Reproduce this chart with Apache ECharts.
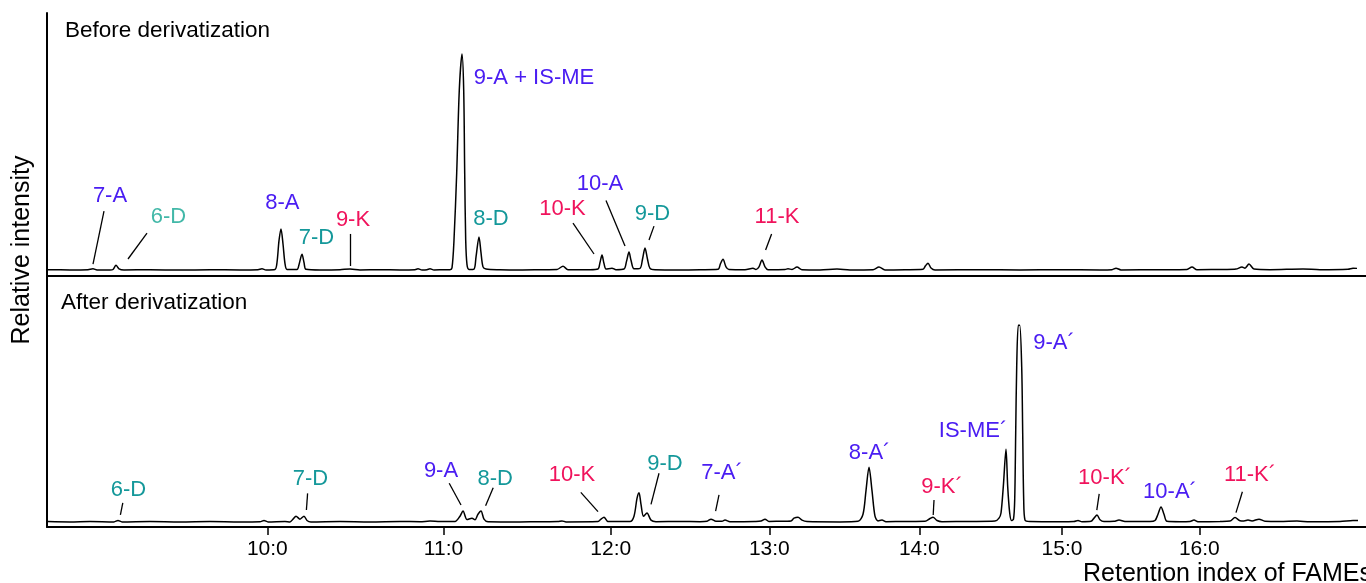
<!DOCTYPE html>
<html>
<head>
<meta charset="utf-8">
<script src="https://cdn.jsdelivr.net/npm/echarts@6/dist/echarts.min.js"></script>
<style>
  html, body { margin: 0; padding: 0; background: #fff; }
  #chart { width: 1366px; height: 583px; }
</style>
</head>
<body>
<div id="chart"></div>
<script>
// retention time (arbitrary min) of the retention index ticks
var riTicks = [6.683, 11.088, 15.268, 19.233, 22.983, 26.55, 29.983];
var riLabels = ['10:0', '11:0', '12:0', '13:0', '14:0', '15:0', '16:0'];

// chromatogram before derivatization [time, rel. intensity]
var beforeTrace = [
  [1.2,0.2],[1.75,0.1],[2.2,0.2],[2.325,0.6],[2.425,0.1],[2.75,0.0],[2.825,0.3],[2.9,2.2],[2.975,0.6],[3.1,0.1],
  [3.75,0.2],[4.5,0.0],[5.25,0.2],[6.0,0.1],[6.45,0.2],[6.55,0.6],[6.65,0.1],
  [6.875,0.3],[6.925,3.5],[6.975,13.5],[7.025,18.9],[7.075,12],[7.125,3],[7.175,0.3],
  [7.425,0.3],[7.475,2.5],[7.55,7.3],[7.6,3.5],[7.65,0.4],[8.0,0.1],[8.5,0.2],[8.75,0.5],[9.0,0.1],
  [9.5,0.2],[10.0,0.1],[10.375,0.2],[10.45,0.6],[10.55,0.1],[10.675,0.2],[10.75,0.6],[10.85,0.1],
  [11.125,0.2],[11.25,0.2],[11.3,1.0],[11.35,13.8],[11.4175,44.6],[11.4825,82.7],[11.55,99.2],
  [11.5925,82.7],[11.6175,44.6],[11.6425,13.8],[11.675,2.5],[11.725,0.3],
  [11.85,0.5],[11.9,6],[11.975,15.2],[12.025,8],[12.075,1.5],[12.15,0.5],[12.5,0.2],[13.0,0.1],
  [13.5,0.2],[13.925,0.3],[14.075,1.8],[14.2,0.2],[14.75,0.2],
  [14.95,0.5],[15.0,3.5],[15.05,6.9],[15.1,3],[15.15,0.5],[15.3,0.9],[15.4,0.2],
  [15.6,0.5],[15.6625,4],[15.725,8.3],[15.775,4.5],[15.85,0.6],
  [16.0,0.8],[16.0625,5],[16.125,10.1],[16.1875,5],[16.25,0.8],[16.375,0.2],[17.0,0.1],[17.5,0.2],
  [17.95,0.4],[18.0125,3],[18.075,5.0],[18.15,1.5],[18.225,0.3],[18.625,0.2],[18.825,0.9],[18.9,0.3],
  [18.975,1.5],[19.05,4.6],[19.125,1.5],[19.2,0.2],[19.625,0.3],[19.7,0.6],[19.8,0.3],[19.925,1.4],
  [20.05,0.2],[20.5,0.1],[20.925,0.5],[21.25,0.1],[21.825,0.2],[21.975,1.4],[22.125,0.1],[22.625,0.2],
  [23.075,0.4],[23.1375,2],[23.2,3.2],[23.275,1],[23.375,0.1],[24.5,0.2],[25.5,0.1],[26.5,0.2],
  [27.5,0.1],[27.8,0.2],[27.9,0.9],[28.025,0.1],[29.0,0.2],[29.675,0.3],[29.8,1.4],[29.925,0.2],
  [30.625,0.3],[30.9,0.5],[31.05,1.4],[31.125,0.9],[31.225,2.8],[31.35,0.5],[31.75,0.2],
  [32.575,0.5],[33.0,0.2],[33.7,0.4],[33.825,0.9],[33.925,0.8]
];

// chromatogram after derivatization [time, rel. intensity]
var afterTrace = [
  [1.2,0.3],[1.75,0.1],[2.25,0.3],[2.85,0.1],[2.95,0.8],[3.05,0.1],[3.75,0.3],[4.5,0.1],[5.25,0.3],
  [6.0,0.1],[6.5,0.2],[6.6,0.8],[6.7,0.1],[7.125,0.3],[7.25,0.1],[7.325,1.5],[7.4,3.0],[7.5,1.5],
  [7.6,3.0],[7.675,0.8],[7.775,0.1],[8.5,0.3],[9.25,0.1],[10.0,0.3],[10.5,0.2],[10.75,0.5],[11.0,0.3],
  [11.375,0.3],[11.5,3],[11.575,5.6],[11.675,1.3],[11.8,2.0],[11.875,1.2],[11.95,4],[12.025,5.6],
  [12.1,1.5],[12.2,0.2],[13.0,0.1],[13.5,0.2],[13.95,0.3],[14.05,0.6],[14.15,0.1],
  [14.95,0.3],[15.025,1.5],[15.1,2.5],[15.2,0.3],[15.75,0.3],[15.85,3],[15.925,12],[15.975,14.9],
  [16.025,9],[16.0875,3],[16.175,4.6],[16.275,1.0],[16.4,0.2],[17.0,0.3],[17.5,0.2],
  [17.675,0.4],[17.775,1.5],[17.9,0.4],[18.05,0.4],[18.125,1.0],[18.25,0.2],[18.875,0.3],
  [19.025,0.5],[19.125,1.5],[19.225,0.3],[19.45,0.4],[19.775,0.6],[19.85,2.0],[19.95,2.5],
  [20.05,1.0],[20.175,0.3],[21.0,0.1],[21.45,0.4],[21.575,4],[21.65,16],[21.725,27.8],[21.8,16],
  [21.875,3],[21.95,0.6],[22.05,1.0],[22.15,0.2],[22.625,0.3],[23.125,0.4],[23.25,1.8],[23.325,2.5],
  [23.425,0.8],[23.55,0.2],[24.25,0.3],[24.875,0.5],[24.975,2],[25.025,4.6],[25.0825,18.0],
  [25.15,37.0],[25.1925,18.0],[25.2425,4.6],[25.2875,0.8],[25.3375,1.5],[25.3675,11.2],
  [25.3925,45.3],[25.4175,78.9],[25.4575,100],[25.4925,100],[25.5425,78.9],[25.5675,45.3],
  [25.5925,11.2],[25.625,1.0],[25.75,0.3],[26.5,0.2],[26.85,0.3],[26.95,0.8],[27.05,0.2],
  [27.275,0.4],[27.35,2],[27.425,3.6],[27.5,1.2],[27.6,0.3],[27.85,0.4],[27.975,1.0],[28.125,0.3],
  [28.75,0.3],[28.875,0.8],[28.95,4],[29.025,7.6],[29.1,4],[29.175,0.4],[29.5,0.2],[29.75,0.3],
  [29.85,1.0],[29.95,0.2],[30.5,0.3],[30.75,0.5],[30.875,2.3],[31.0,0.7],[31.1,0.6],[31.2,1.0],
  [31.3,0.6],[31.475,1.5],[31.625,0.4],[32.0,0.3],[32.425,0.5],[32.75,0.2],[33.5,0.3],[33.825,0.8],
  [33.95,0.8]
];

// peak labels [text, class, time, intensity]
var beforeLabels = [
  ['7-A','A',2.75,34.0],['6-D','D2',4.21,24.4],['8-A','A',7.06,30.8],['7-D','D',7.91,14.7],
  ['9-K','K',8.825,23.0],['9-A + IS-ME','A',13.35,88.2],['8-D','D',12.275,23.5],
  ['10-K','K',14.06,28.0],['10-A','A',15.0,39.5],['9-D','D',16.31,25.8],['11-K','K',19.425,24.4]
];
var afterLabels = [
  ['6-D','D',3.21,16.3],['7-D','D',7.76,21.9],['9-A','A',11.025,25.9],['8-D','D',12.38,21.9],
  ['10-K','K',14.3,23.9],['9-D','D',16.625,29.5],['7-A\u00b4','A',18.05,24.9],['8-A\u00b4','A',21.74,35.1],
  ['9-K\u00b4','K',23.55,17.8],['IS-ME\u00b4','A',24.325,46.3],['9-A\u00b4','A',26.35,91.0],
  ['10-K\u00b4','K',27.625,22.4],['10-A\u00b4','A',29.25,15.3],['11-K\u00b4','K',31.25,23.9]
];
// leader lines [t1, v1, t2, v2]
var beforeLeaders = [
  [2.6,27.1,2.325,2.8],[3.675,17.0,3.2,5.1],[8.75,16.6,8.75,1.9],[14.325,21.6,14.85,7.4],
  [15.15,32.0,15.625,11.1],[16.35,20.2,16.225,13.8],[19.29,16.6,19.14,9.2]
];
var afterLeaders = [
  [3.07,9.7,3.01,3.6],[7.69,14.6,7.66,6.1],[11.23,19.7,11.525,8.7],[12.33,17.5,12.14,8.3],
  [14.52,15.1,14.95,5.3],[16.475,24.8,16.275,9.0],[17.975,13.8,17.89,5.6],[23.35,11.2,23.33,3.6],
  [27.48,14.3,27.42,6.1],[31.06,15.4,30.9,4.8]
];

var colors = { A: '#4a1df2', K: '#f0135c', D: '#14989a', D2: '#42b8a8' };
var FONT = '"Liberation Sans", Arial, sans-serif';

function makeLabels(list) {
  var out = [];
  for (var i = 0; i < list.length; i++) {
    out.push({
      coord: [list[i][2], list[i][3]],
      value: list[i][0],
      label: { formatter: list[i][0], color: colors[list[i][1]] }
    });
  }
  return out;
}
function makeLeaders(list) {
  var out = [];
  for (var i = 0; i < list.length; i++) {
    out.push([{ coord: [list[i][0], list[i][1]] }, { coord: [list[i][2], list[i][3]] }]);
  }
  return out;
}

function traceSeries(data, idx, labels, leaders) {
  return {
    type: 'line',
    xAxisIndex: idx,
    yAxisIndex: idx,
    data: data,
    symbol: 'none',
    smooth: 0.3,
    lineStyle: { color: '#000', width: 1.5 },
    silent: true,
    markPoint: {
      symbol: 'rect',
      symbolSize: 1,
      itemStyle: { color: 'rgba(0,0,0,0)' },
      label: { show: true, position: 'inside', fontSize: 22, fontFamily: FONT },
      silent: true,
      data: makeLabels(labels)
    },
    markLine: {
      symbol: ['none', 'none'],
      silent: true,
      label: { show: false },
      lineStyle: { color: '#000', width: 1.3, type: 'solid' },
      data: makeLeaders(leaders)
    }
  };
}

var axisLineStyle = { color: '#000', width: 2 };

var myChart = echarts.init(document.getElementById('chart'));
myChart.setOption({
  animation: false,
  grid: [
    { left: 47, right: 0, top: 13, height: 263 },
    { left: 47, right: 0, top: 276, height: 251 }
  ],
  xAxis: [
    {
      type: 'value', gridIndex: 0, min: 1.175, max: 34.15,
      axisLine: { onZero: false, lineStyle: axisLineStyle },
      axisTick: { show: false }, axisLabel: { show: false }, splitLine: { show: false }
    },
    {
      type: 'value', gridIndex: 1, min: 1.175, max: 34.15,
      axisLine: { onZero: false, lineStyle: axisLineStyle },
      axisTick: { show: true, customValues: riTicks, length: 8, lineStyle: { color: '#000', width: 1.5 } },
      axisLabel: {
        customValues: riTicks,
        formatter: function (v) {
          var best = 0;
          for (var i = 0; i < riTicks.length; i++) {
            if (Math.abs(riTicks[i] - v) < Math.abs(riTicks[best] - v)) best = i;
          }
          return riLabels[best];
        },
        color: '#000', fontSize: 21, fontFamily: FONT, margin: 12
      },
      splitLine: { show: false }
    }
  ],
  yAxis: [
    {
      type: 'value', gridIndex: 0, min: -2.7, max: 118,
      axisLine: { show: true, onZero: false, lineStyle: axisLineStyle },
      axisTick: { show: false }, axisLabel: { show: false }, splitLine: { show: false }
    },
    {
      type: 'value', gridIndex: 1, min: -2.5, max: 125,
      axisLine: { show: true, onZero: false, lineStyle: axisLineStyle },
      axisTick: { show: false }, axisLabel: { show: false }, splitLine: { show: false }
    }
  ],
  graphic: [
    { type: 'text', x: 65, y: 31, style: { text: 'Before derivatization', fill: '#000', fontSize: 22.5, fontFamily: FONT, verticalAlign: 'middle' } },
    { type: 'text', x: 61, y: 303, style: { text: 'After derivatization', fill: '#000', fontSize: 22.5, fontFamily: FONT, verticalAlign: 'middle' } },
    { type: 'text', x: 22, y: 250, rotation: Math.PI / 2, style: { text: 'Relative intensity', fill: '#000', fontSize: 25, fontFamily: FONT, align: 'center', verticalAlign: 'middle' } },
    { type: 'text', x: 1083, y: 574, style: { text: 'Retention index of FAMEs', fill: '#000', fontSize: 25, fontFamily: FONT, verticalAlign: 'middle' } }
  ],
  series: [
    traceSeries(beforeTrace, 0, beforeLabels, beforeLeaders),
    traceSeries(afterTrace, 1, afterLabels, afterLeaders)
  ]
});
</script>
</body>
</html>
